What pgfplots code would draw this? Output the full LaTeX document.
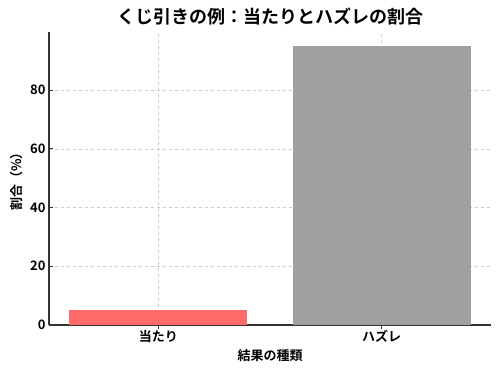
\documentclass[border=0pt]{standalone}
\usepackage{pgfplots}
\pgfplotsset{compat=1.18}
\usepackage{fontspec}
\setmainfont{Noto Sans CJK JP}[BoldFont={* Bold}]
\definecolor{redbar}{HTML}{FF6B6B}
\definecolor{graybar}{HTML}{A0A0A0}
\definecolor{spine}{HTML}{333333}
\begin{document}
\begin{tikzpicture}
\begin{axis}[
  name=ax,
  scale only axis,
  width=442pt, height=293pt,
  xmin=-0.49, xmax=1.49,
  ymin=0, ymax=99.75,
  axis x line*=bottom, axis y line*=left,
  axis line style={spine, line width=1.1pt},
  xtick={0,1}, xticklabels={当たり,ハズレ},
  ytick={0,20,40,60,80},
  tick align=inside,
  tick style={spine, line width=0.8pt},
  major tick length=4pt,
  grid=major,
  grid style={dashed, gray!40, line width=0.5pt},
  ticklabel style={font=\fontsize{13}{15}\selectfont\bfseries},
  xticklabel style={yshift=2pt},
  /pgf/number format/assume math mode=true,
  xlabel={結果の種類},
  ylabel={割合（\%）},
  label style={font=\fontsize{13}{15}\selectfont\bfseries},
  title={くじ引きの例：当たりとハズレの割合},
  title style={font=\fontsize{18}{20}\selectfont\bfseries, yshift=-3pt},
  ylabel style={yshift=0pt},
  xlabel style={yshift=0pt},
  ybar, bar width=178pt,
]
\addplot[fill=redbar, draw=none, bar shift=0pt] coordinates {(0,5)};
\addplot[fill=graybar, draw=none, bar shift=0pt] coordinates {(1,95)};
\end{axis}
\pgfresetboundingbox
\path[use as bounding box] ([shift={(-49pt,-46pt)}]ax.south west) rectangle ([shift={(9pt,32pt)}]ax.north east);
\end{tikzpicture}
\end{document}
